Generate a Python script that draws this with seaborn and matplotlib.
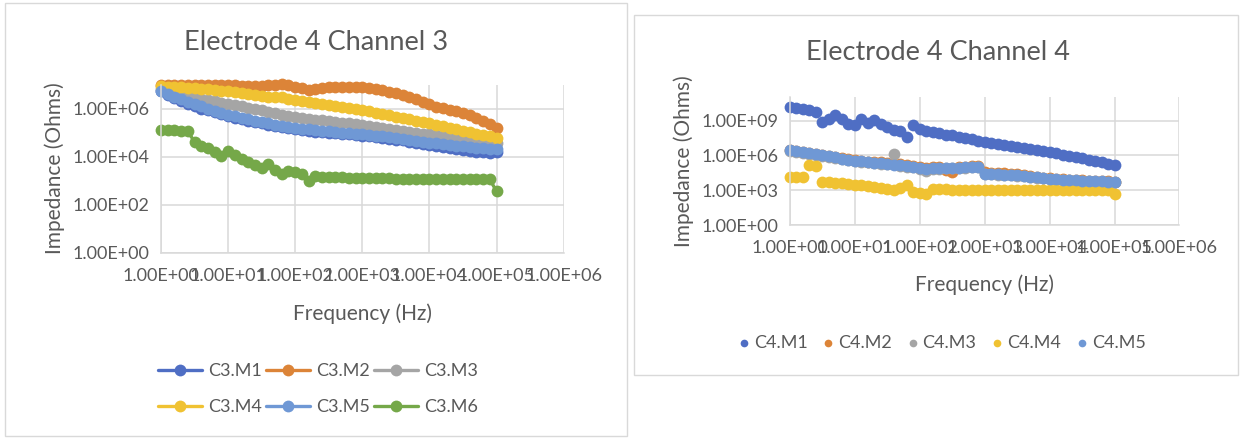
import matplotlib
matplotlib.use("Agg")
import matplotlib.pyplot as plt
import seaborn as sns
from matplotlib.patches import Rectangle
from matplotlib.ticker import FixedLocator, FuncFormatter, NullLocator

sns.set_theme(style="white")
plt.rcParams['font.family'] = ['Lato', 'DejaVu Sans']

# Frequency sweep (Hz), 10 points per decade
freq_hz = [
    1.0, 1.259, 1.585, 1.995, 2.512, 3.162, 3.981, 5.012, 6.310, 7.943,
    10.0, 12.59, 15.85, 19.95, 25.12, 31.62, 39.81, 50.12, 63.10, 79.43,
    100.0, 125.9, 158.5, 199.5, 251.2, 316.2, 398.1, 501.2, 631.0, 794.3,
    1000.0, 1259.0, 1585.0, 1995.0, 2512.0, 3162.0, 3981.0, 5012.0, 6310.0, 7943.0,
    10000.0, 12590.0, 15850.0, 19950.0, 25120.0, 31620.0, 39810.0, 50120.0, 63100.0, 79430.0,
    100000.0,
]

# Channel 3: log10 of impedance (Ohms)
c3_m1 = [6.74, 6.58, 6.45, 6.32, 6.19, 6.09, 6.00, 5.92, 5.84, 5.76,
         5.68, 5.62, 5.56, 5.50, 5.44, 5.38, 5.32, 5.27, 5.22, 5.17,
         5.13, 5.10, 5.07, 5.04, 5.02, 5.00, 4.97, 4.95, 4.92, 4.90,
         4.87, 4.84, 4.81, 4.78, 4.74, 4.71, 4.67, 4.62, 4.57, 4.52,
         4.47, 4.42, 4.38, 4.34, 4.30, 4.27, 4.24, 4.21, 4.18, 4.17,
         4.20]
c3_m2 = [7.00, 6.99, 6.98, 6.98, 6.97, 6.97, 6.97, 6.96, 6.96, 6.96,
         6.96, 6.96, 6.95, 6.95, 6.95, 6.95, 6.96, 6.98, 7.03, 6.97,
         6.90, 6.84, 6.78, 6.80, 6.84, 6.88, 6.90, 6.91, 6.91, 6.90,
         6.88, 6.85, 6.81, 6.76, 6.70, 6.63, 6.56, 6.48, 6.38, 6.28,
         6.17, 6.08, 6.01, 5.94, 5.88, 5.80, 5.73, 5.62, 5.50, 5.36,
         5.20]
c3_m3 = [6.80, 6.72, 6.65, 6.58, 6.52, 6.46, 6.40, 6.35, 6.30, 6.25,
         6.20, 6.15, 6.10, 6.04, 5.98, 5.92, 5.86, 5.80, 5.75, 5.70,
         5.66, 5.62, 5.58, 5.54, 5.51, 5.48, 5.44, 5.41, 5.38, 5.35,
         5.32, 5.28, 5.24, 5.20, 5.16, 5.12, 5.08, 5.04, 5.00, 4.96,
         4.92, 4.88, 4.84, 4.80, 4.77, 4.74, 4.70, 4.66, 4.62, 4.58,
         4.55]
c3_m4 = [6.92, 6.91, 6.90, 6.88, 6.86, 6.84, 6.82, 6.80, 6.77, 6.75,
         6.72, 6.69, 6.65, 6.62, 6.58, 6.54, 6.50, 6.47, 6.48, 6.39,
         6.35, 6.31, 6.27, 6.23, 6.19, 6.15, 6.10, 6.06, 6.02, 5.98,
         5.93, 5.88, 5.83, 5.78, 5.72, 5.66, 5.61, 5.55, 5.49, 5.44,
         5.38, 5.32, 5.26, 5.20, 5.14, 5.08, 5.02, 4.96, 4.90, 4.84,
         4.78]
c3_m5 = [6.72, 6.60, 6.49, 6.38, 6.27, 6.18, 6.09, 6.00, 5.91, 5.82,
         5.74, 5.68, 5.62, 5.56, 5.50, 5.44, 5.38, 5.33, 5.28, 5.23,
         5.19, 5.16, 5.13, 5.10, 5.08, 5.06, 5.03, 5.00, 4.98, 4.95,
         4.93, 4.90, 4.87, 4.84, 4.81, 4.78, 4.74, 4.70, 4.66, 4.62,
         4.58, 4.55, 4.52, 4.49, 4.46, 4.43, 4.40, 4.37, 4.35, 4.32,
         4.30]
c3_m6 = [5.11, 5.10, 5.09, 5.08, 5.07, 4.60, 4.45, 4.35, 4.20, 4.02,
         4.23, 4.05, 3.90, 3.78, 3.65, 3.54, 3.70, 3.45, 3.26, 3.40,
         3.35, 3.26, 2.98, 3.20, 3.16, 3.15, 3.14, 3.13, 3.12, 3.12,
         3.11, 3.10, 3.10, 3.09, 3.09, 3.08, 3.08, 3.08, 3.07, 3.07,
         3.07, 3.07, 3.06, 3.06, 3.06, 3.06, 3.06, 3.05, 3.05, 3.05,
         2.56]

# Channel 4: log10 of impedance (Ohms)
c4_m1 = [10.17, 10.10, 10.00, 9.90, 9.74, 8.88, 9.10, 9.46, 9.10, 8.70,
         8.65, 9.16, 8.80, 9.02, 8.70, 8.45, 8.15, 8.10, 7.59, 8.59,
         8.30, 8.10, 8.00, 7.90, 7.80, 7.73, 7.62, 7.51, 7.40, 7.28,
         7.16, 7.07, 6.98, 6.89, 6.80, 6.72, 6.63, 6.55, 6.46, 6.38,
         6.29, 6.18, 6.07, 5.96, 5.85, 5.74, 5.63, 5.52, 5.43, 5.30,
         5.14]
c4_m2 = [6.48, 6.38, 6.29, 6.20, 6.11, 6.02, 5.93, 5.84, 5.75, 5.66,
         5.58, 5.52, 5.47, 5.43, 5.39, 5.34, 5.30, 5.25, 5.19, 5.10,
         5.00, 4.95, 4.98, 5.00, 4.70, 4.60, 5.02, 5.04, 5.06, 5.08,
         4.55, 4.52, 4.48, 4.45, 4.42, 4.38, 4.33, 4.26, 4.15, 4.07,
         4.01, 3.97, 3.93, 3.90, 3.87, 3.84, 3.82, 3.80, 3.78, 3.76,
         3.73]
c4_m3 = [6.41, 6.32, 6.23, 6.14, 6.05, 5.97, 5.88, 5.79, 5.70, 5.60,
         5.52, 5.46, 5.40, 5.34, 5.28, 5.22, 6.15, 5.10, 5.04, 4.99,
         4.87, 4.62, 4.85, 4.87, 4.88, 4.89, 4.92, 4.94, 4.96, 4.97,
         4.39, 4.37, 4.34, 4.31, 4.28, 4.25, 4.21, 4.15, 4.07, 4.01,
         3.96, 3.92, 3.88, 3.85, 3.82, 3.79, 3.77, 3.75, 3.73, 3.71,
         3.68]
c4_m4 = [4.14, 4.14, 4.13, 5.15, 5.12, 3.75, 3.70, 3.64, 3.58, 3.52,
         3.48, 3.44, 3.38, 3.30, 3.22, 3.12, 3.00, 3.20, 3.45, 2.86,
         2.75, 2.68, 3.10, 3.08, 3.07, 3.06, 3.05, 3.05, 3.04, 3.04,
         3.04, 3.04, 3.04, 3.04, 3.04, 3.04, 3.04, 3.04, 3.04, 3.04,
         3.04, 3.04, 3.04, 3.04, 3.04, 3.04, 3.04, 3.04, 3.03, 3.03,
         2.70]
c4_m5 = [6.44, 6.35, 6.26, 6.17, 6.08, 6.00, 5.91, 5.82, 5.73, 5.63,
         5.55, 5.49, 5.43, 5.37, 5.31, 5.25, 5.19, 5.13, 5.07, 5.02,
         4.90, 4.85, 4.88, 4.90, 4.91, 4.92, 4.95, 4.97, 4.99, 5.00,
         4.42, 4.40, 4.37, 4.34, 4.31, 4.28, 4.24, 4.18, 4.10, 4.04,
         3.99, 3.95, 3.91, 3.88, 3.85, 3.82, 3.80, 3.78, 3.76, 3.74,
         3.71]

c3_names = ["C3.M1", "C3.M2", "C3.M3", "C3.M4", "C3.M5", "C3.M6"]
c4_names = ["C4.M1", "C4.M2", "C4.M3", "C4.M4", "C4.M5"]
c3_series = [c3_m1, c3_m2, c3_m3, c3_m4, c3_m5, c3_m6]
c4_series = [c4_m1, c4_m2, c4_m3, c4_m4, c4_m5]

palette = ["#4f6ec4", "#dc8438", "#a5a5a5", "#f0c232", "#6f98d5", "#75a849"]
text_color = "#595959"
grid_color = "#d9d9d9"

W, H = 1241, 438
fig = plt.figure(figsize=(W / 100, H / 100), dpi=100)
fig.patch.set_facecolor("white")


def px_axes(x0, y0, x1, y1):
    """Axes box given in pixel corners (top-left origin)."""
    return fig.add_axes([x0 / W, 1 - y1 / H, (x1 - x0) / W, (y1 - y0) / H])


def sci_label(v, _pos):
    return f"{v:.2E}"


def style_axes(ax, yticks, ylim):
    ax.set_xscale("log")
    ax.set_yscale("log")
    ax.set_xlim(1, 1e6)
    ax.set_ylim(*ylim)
    ax.xaxis.set_major_locator(FixedLocator([1e0, 1e1, 1e2, 1e3, 1e4, 1e5, 1e6]))
    ax.yaxis.set_major_locator(FixedLocator(yticks))
    ax.xaxis.set_minor_locator(NullLocator())
    ax.yaxis.set_minor_locator(NullLocator())
    ax.xaxis.set_major_formatter(FuncFormatter(sci_label))
    ax.yaxis.set_major_formatter(FuncFormatter(sci_label))
    ax.grid(True, which="major", color=grid_color, linewidth=1.1)
    ax.set_axisbelow(True)
    for side in ("top", "right"):
        ax.spines[side].set_visible(False)
    for side in ("left", "bottom"):
        ax.spines[side].set_color(grid_color)
        ax.spines[side].set_linewidth(1.1)
    ax.tick_params(axis="both", length=0, labelsize=13, labelcolor=text_color)
    ax.tick_params(axis="x", pad=11)
    ax.tick_params(axis="y", pad=8)
    ax.set_facecolor("white")


# Panel frames
fig.add_artist(Rectangle((5 / W, 1 - 436 / H), 622 / W, 433 / H, transform=fig.transFigure,
                         fill=False, edgecolor=grid_color, linewidth=1))
fig.add_artist(Rectangle((634 / W, 1 - 375 / H), 604 / W, 360 / H, transform=fig.transFigure,
                         fill=False, edgecolor=grid_color, linewidth=1))

# ---- Electrode 4 Channel 3 ----
ax1 = px_axes(161, 84.5, 563.6, 252.7)
for name, vals, col in zip(c3_names, c3_series, palette):
    sns.lineplot(x=freq_hz, y=[10 ** v for v in vals], ax=ax1, color=col, label=name,
                 estimator=None, sort=False, marker="o", markersize=8.5,
                 markeredgewidth=0, linewidth=2.4, clip_on=False)
style_axes(ax1, [1e0, 1e2, 1e4, 1e6], (1, 1e7))
ax1.set_xlabel("Frequency (Hz)", fontsize=15, color=text_color, labelpad=14)
ax1.set_ylabel("Impedance (Ohms)", fontsize=15, color=text_color, labelpad=6)
h, l = ax1.get_legend_handles_labels()
order = [0, 3, 1, 4, 2, 5]
ax1.legend([h[i] for i in order], [l[i] for i in order], ncol=3, loc="center",
           bbox_to_anchor=(318 / W, 1 - 389 / H), bbox_transform=fig.transFigure,
           frameon=False, fontsize=13, labelcolor=text_color, handlelength=2.4,
           handletextpad=0.35, columnspacing=0.25, labelspacing=1.1)
fig.text(316 / W, 1 - 42 / H, "Electrode 4 Channel 3", ha="center", va="center",
         fontsize=19.5, color=text_color)

# ---- Electrode 4 Channel 4 ----
ax2 = px_axes(790, 97.4, 1179.4, 225)
for name, vals, col in zip(c4_names, c4_series, palette):
    sns.scatterplot(x=freq_hz, y=[10 ** v for v in vals], ax=ax2, color=col, label=name,
                    s=72, linewidth=0, clip_on=False)
style_axes(ax2, [1e0, 1e3, 1e6, 1e9], (1, 1e11))
ax2.set_xlabel("Frequency (Hz)", fontsize=15, color=text_color, labelpad=13)
ax2.set_ylabel("Impedance (Ohms)", fontsize=15, color=text_color, labelpad=6)
ax2.legend(ncol=5, loc="center", bbox_to_anchor=(942 / W, 1 - 343 / H),
           bbox_transform=fig.transFigure, frameon=False, fontsize=13,
           labelcolor=text_color, markerscale=0.65, handlelength=0.6,
           handletextpad=0.25, columnspacing=0.85)
fig.text(938 / W, 1 - 53 / H, "Electrode 4 Channel 4", ha="center", va="center",
         fontsize=19.5, color=text_color)

fig.savefig("out.png", dpi=100, facecolor="white")
